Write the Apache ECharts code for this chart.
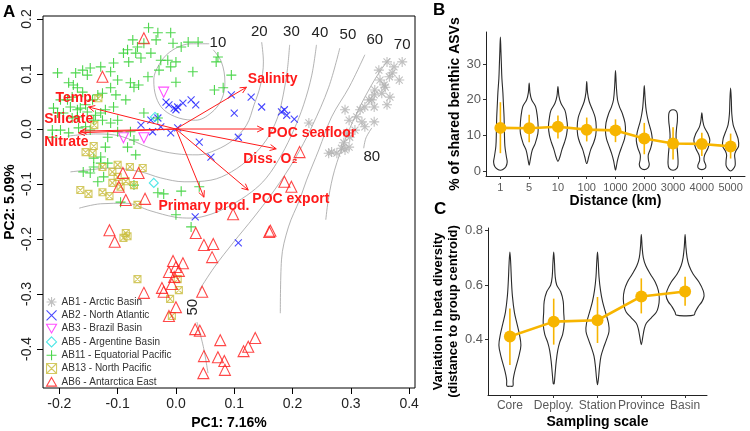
<!DOCTYPE html>
<html><head><meta charset="utf-8">
<script src="https://cdn.jsdelivr.net/npm/echarts@6/dist/echarts.min.js"></script>
<style>html,body{margin:0;padding:0;background:#fff}#c{width:750px;height:431px}</style>
</head><body><div id="c"></div>
<script>
// ---------- Panel A data ----------
const ab1 = [[0.362,0.122],[0.388,0.122],[0.374,0.113],[0.383,0.089],[0.366,0.095],[0.350,0.089],[0.359,0.076],[0.341,0.071],[0.353,0.065],[0.336,0.053],[0.367,0.058],[0.324,0.040],[0.340,0.040],[0.290,0.035],[0.316,0.035],[0.340,0.013],[0.324,0.004],[0.297,0.016],[0.293,-0.007],[0.288,-0.025],[0.290,-0.038],[0.276,-0.044],[0.297,-0.033],[0.371,0.102],[0.348,0.107],[0.331,0.053],[0.310,0.022],[0.319,0.013],[0.307,-0.002],[0.298,-0.015],[0.267,-0.042],[0.228,0.011],[0.362,0.044],[0.357,0.080],[0.340,0.062],[0.284,-0.035],[0.262,-0.044]];
const ab2 = [[-0.017,0.049],[-0.003,0.038],[0.003,0.040],[0.026,0.053],[0.034,0.044],[0.012,0.047],[-0.060,0.007],[-0.043,0.016],[-0.031,0.020],[-0.026,0.004],[-0.040,-0.005],[-0.009,-0.007],[0.003,0.002],[0.095,0.062],[0.129,0.058],[0.147,0.040],[0.100,0.029],[0.181,0.031],[0.186,0.035],[0.190,0.025],[0.203,0.018],[0.107,-0.015],[0.040,-0.024],[0.060,-0.051],[0.033,-0.160],[0.107,-0.207],[0.000,0.035],[-0.012,0.044]];
const ab3 = [[-0.021,0.067],[-0.090,-0.016],[-0.055,-0.016]];
const ab5 = [[-0.036,0.022],[-0.038,-0.098]];
const ab11 = [[-0.047,0.184],[-0.031,0.175],[-0.009,0.175],[0.021,0.158],[0.038,0.158],[-0.074,0.162],[-0.055,0.156],[-0.034,0.162],[-0.005,0.156],[0.009,0.149],[-0.066,0.149],[-0.083,0.144],[-0.090,0.138],[-0.043,0.138],[-0.069,0.138],[-0.060,0.129],[-0.081,0.122],[-0.107,0.120],[-0.026,0.125],[-0.014,0.125],[0.000,0.122],[0.029,0.104],[-0.129,0.113],[-0.147,0.111],[-0.160,0.107],[-0.203,0.102],[-0.172,0.102],[-0.152,0.098],[-0.112,0.104],[-0.100,0.089],[-0.078,0.084],[-0.072,0.076],[-0.064,0.080],[-0.048,0.095],[-0.029,0.107],[-0.009,0.113],[0.000,0.085],[-0.184,0.084],[-0.176,0.080],[-0.169,0.075],[-0.160,0.067],[-0.178,0.058],[-0.186,0.053],[-0.198,0.053],[-0.181,0.040],[-0.169,0.035],[-0.164,0.038],[-0.155,0.044],[-0.152,0.031],[-0.143,0.053],[-0.134,0.062],[-0.126,0.065],[-0.112,0.075],[-0.103,0.062],[-0.086,0.053],[-0.107,0.040],[-0.121,0.035],[-0.129,0.029],[-0.138,0.025],[-0.169,0.022],[-0.178,0.020],[-0.141,0.016],[-0.126,0.016],[-0.112,0.011],[-0.100,0.016],[-0.055,0.029],[-0.031,0.020],[-0.210,0.038],[-0.203,0.029],[-0.193,0.029],[-0.198,-0.002],[-0.212,-0.015],[-0.212,-0.002],[-0.184,-0.007],[-0.167,0.002],[-0.155,0.004],[-0.147,-0.002],[-0.117,-0.015],[-0.100,-0.005],[-0.078,-0.005],[-0.072,-0.020],[-0.083,-0.033],[-0.069,-0.047],[-0.121,-0.033],[-0.129,-0.051],[-0.141,-0.053],[-0.129,-0.062],[-0.117,-0.062],[-0.141,-0.069],[-0.031,-0.116],[-0.021,-0.118],[0.009,-0.113],[0.040,-0.105],[-0.159,-0.078],[-0.147,-0.080],[-0.124,-0.087],[-0.134,-0.096],[-0.072,-0.102],[0.069,0.122],[0.072,0.131],[0.095,0.098],[0.066,0.071],[0.081,0.075],[0.000,-0.156],[0.026,-0.178],[-0.095,-0.133]];
const ab13 = [[-0.133,0.056],[-0.140,0.007],[-0.141,-0.031],[-0.155,-0.042],[-0.143,-0.044],[-0.126,-0.069],[-0.100,-0.065],[-0.079,-0.069],[-0.057,-0.071],[-0.109,-0.078],[-0.100,-0.087],[-0.086,-0.095],[-0.109,-0.098],[-0.095,-0.105],[-0.072,-0.102],[-0.164,-0.111],[-0.150,-0.118],[-0.126,-0.115],[-0.114,-0.122],[-0.066,-0.138],[-0.086,-0.189],[-0.083,-0.195],[-0.090,-0.198],[-0.066,-0.273],[0.003,-0.273],[0.005,-0.293],[-0.010,-0.309],[-0.007,-0.340]];
const ab6 = [[-0.055,0.165],[-0.126,0.095],[-0.091,-0.080],[-0.064,-0.080],[-0.098,-0.105],[-0.086,-0.129],[-0.053,-0.127],[-0.114,-0.184],[-0.105,-0.205],[0.098,-0.155],[0.034,-0.189],[0.048,-0.211],[0.064,-0.209],[0.062,-0.233],[-0.005,-0.240],[0.012,-0.244],[0.000,-0.251],[-0.012,-0.260],[0.005,-0.258],[-0.003,-0.269],[-0.055,-0.298],[-0.024,-0.289],[-0.021,-0.296],[-0.007,-0.282],[0.045,-0.296],[0.000,-0.324],[-0.012,-0.340],[0.033,-0.364],[0.041,-0.367],[0.076,-0.384],[0.048,-0.413],[0.072,-0.415],[0.083,-0.422],[0.084,-0.438],[0.047,-0.444],[0.160,-0.187],[0.136,-0.380],[0.124,-0.396],[0.116,-0.404],[0.212,-0.042],[0.186,-0.096],[0.198,-0.105],[0.162,-0.185]];
const groupNames = ['AB1 - Arctic Basin','AB2 - North Atlantic','AB3 - Brazil Basin','AB5 - Argentine Basin','AB11 - Equatorial Pacific','AB13 - North Pacific','AB6 - Antarctica East'];

// environmental fit arrows (PC1, PC2) and label anchors
const arrowNames = ['Temp.','Silicate','Nitrate','Salinity','POC seafloor','Diss. O₂','POC export','Primary prod.'];
const arrowX = [-0.150,-0.164,-0.167,0.121,0.150,0.172,0.124,0.048];
const arrowY = [0.040,-0.004,-0.007,0.076,0.000,-0.036,-0.111,-0.124];
const arrowLabelX = [-0.172,-0.184,-0.188,0.166,0.233,0.162,0.197,0.048];
const arrowLabelY = [0.056,0.018,-0.024,0.091,-0.007,-0.055,-0.127,-0.140];

// ordisurf contours
const contour10 = [[0.057,0.155],[0.026,0.155],[-0.005,0.144],[-0.026,0.122],[-0.038,0.089],[-0.034,0.058],[-0.021,0.035],[0.005,0.020],[0.034,0.016],[0.060,0.029],[0.078,0.053],[0.084,0.085],[0.078,0.122],[0.064,0.144]];
const contour20 = [[0.147,0.158],[0.150,0.122],[0.145,0.080],[0.134,0.044],[0.121,0.007],[0.098,-0.020],[0.069,-0.038],[0.038,-0.047],[0.000,-0.045],[-0.043,-0.035],[-0.095,-0.013],[-0.138,-0.009],[-0.186,-0.013]];
const contour30 = [[0.195,0.153],[0.191,0.107],[0.184,0.062],[0.174,0.020],[0.155,-0.020],[0.129,-0.051],[0.095,-0.078],[0.060,-0.093],[0.014,-0.096],[-0.026,-0.089],[-0.060,-0.078],[-0.112,-0.071],[-0.155,-0.075],[-0.181,-0.078]];
const contour40 = [[0.241,0.153],[0.233,0.098],[0.219,0.044],[0.202,-0.002],[0.181,-0.047],[0.155,-0.089],[0.129,-0.115],[0.095,-0.138],[0.060,-0.155],[0.026,-0.162],[-0.003,-0.160],[-0.043,-0.149],[-0.086,-0.135],[-0.129,-0.136],[-0.166,-0.144]];
const contour50a = [[0.281,0.147],[0.262,0.076],[0.233,0.004],[0.203,-0.056],[0.169,-0.111],[0.134,-0.160],[0.098,-0.207],[0.066,-0.251],[0.040,-0.293]];
const contour50b = [[0.036,-0.351],[0.047,-0.396],[0.055,-0.444]];
const contour60 = [[0.324,0.135],[0.297,0.076],[0.267,0.022],[0.245,-0.038],[0.224,-0.093],[0.212,-0.129],[0.193,-0.178],[0.181,-0.238],[0.179,-0.335]];
const contour70 = [[0.367,0.129],[0.348,0.102],[0.324,0.058],[0.307,0.022],[0.290,-0.020],[0.272,-0.075],[0.262,-0.124],[0.257,-0.165]];
const contour80 = [[0.336,0.002],[0.326,-0.016],[0.322,-0.035]];
const contourLabelText = ['10','20','30','40','50','60','70','80','50'];
const contourLabelX = [0.072,0.143,0.198,0.247,0.295,0.341,0.388,0.336,0.029];
const contourLabelY = [0.156,0.176,0.176,0.175,0.171,0.162,0.153,-0.051,-0.324];
const contourLabelAngle = [0,0,0,0,0,0,0,0,90];

const ticksAx = [-0.2,-0.1,0,0.1,0.2,0.3,0.4];
const ticksAy = [-0.4,-0.3,-0.2,-0.1,0,0.1,0.2];

// ---------- Panel B data ----------
const bCats = ['1','5','10','100','1000','2000','3000','4000','5000'];
const bMeans = [12.1,12.0,12.4,11.6,11.4,9.1,7.7,7.6,6.9];
const bLower = [5.0,8.1,9.1,8.3,8.1,4.7,3.2,4.2,3.5];
const bUpper = [19.3,15.8,15.6,15.0,14.5,13.5,12.3,10.7,10.5];
const bTicks = [0,10,20,30];
// violin outlines: [value, relative density]
const bViolins = [
 [[37.6,0],[34,0.5],[30,1],[26,1.5],[22,2.5],[19,3],[15,3.7],[11,4],[7,4.5],[4,6],[2.5,6.8],[1.2,5.5],[0.4,2.5],[0.2,0]],
 [[24.7,0],[22,0.8],[20,2.5],[18,6.5],[15,8.3],[12.3,9],[10.5,8.7],[7.7,6],[5.8,3],[3,1],[1.6,0]],
 [[23.7,0],[21,1],[19,3],[17,7],[15,8.5],[12.5,9.5],[10,8.5],[8,6.5],[6,4],[4,2],[2.7,0]],
 [[25.1,0],[22,0.8],[19.5,2.5],[17,6],[15,8.5],[12.5,9.5],[10,9],[8,7],[6,4],[4,2],[2.1,0]],
 [[28.2,0],[24,0.8],[20,2],[18,4],[16,7],[13.5,9.5],[11,10],[9,9],[7,6.5],[5,4],[3,2],[1.5,1],[0.2,0]],
 [[24,0],[21,0.7],[18,1.5],[16,2.5],[14,4],[12,6],[10.5,7.3],[8.6,8],[6.5,6.5],[4.5,4],[3,4.2],[1.8,5],[0.8,3.5],[0.4,0]],
 [[17.2,0],[16.9,3],[16,4.3],[14,4.3],[12,3.5],[10,3],[8,3.3],[6,4.2],[4,4.8],[2,5],[0.8,4],[0.2,0]],
 [[16.3,0],[14,1],[12.3,2.5],[10.5,6],[8.6,8],[6.3,6],[4.4,2.7],[3,2.2],[1.6,4],[0.8,3.5],[0.4,0]],
 [[23.3,0],[20,0.7],[16,1.2],[13,2.5],[11,5],[9,7.5],[7,8],[5.5,5],[4.5,4],[3,4.5],[1.5,4.5],[0.5,2.5],[0,0]]
];

// ---------- Panel C data ----------
const cCats = ['Core','Deploy.','Station','Province','Basin'];
const cMeans = [0.412,0.466,0.471,0.558,0.576];
const cLower = [0.308,0.382,0.388,0.496,0.524];
const cUpper = [0.514,0.550,0.556,0.624,0.630];
const cTicks = [0.4,0.6,0.8];
const cViolins = [
 [[0.72,0],[0.68,0.8],[0.62,1.5],[0.56,2.5],[0.5,4.5],[0.46,7],[0.42,9.5],[0.38,11],[0.34,9],[0.3,6],[0.27,4],[0.25,3.2],[0.231,3],[0.23,0]],
 [[0.72,0],[0.68,0.8],[0.63,1.5],[0.6,3],[0.575,7],[0.54,9.5],[0.5,10],[0.46,10.5],[0.42,9],[0.39,6],[0.36,4],[0.32,2.5],[0.28,1.5],[0.24,0.5],[0.238,0]],
 [[0.72,0],[0.68,0.8],[0.63,1.5],[0.58,3],[0.54,5],[0.5,8],[0.46,11],[0.43,11.5],[0.4,9],[0.37,6],[0.34,3.5],[0.3,2],[0.26,1],[0.236,0]],
 [[0.784,0],[0.74,0.8],[0.7,2],[0.67,4.5],[0.64,9],[0.61,14],[0.58,17],[0.55,18],[0.52,17],[0.5,15],[0.48,10],[0.46,5],[0.44,3],[0.41,1.5],[0.382,0]],
 [[0.784,0],[0.74,0.8],[0.7,2],[0.67,4],[0.64,8],[0.61,14],[0.58,18],[0.56,19],[0.54,17],[0.52,13],[0.5,10],[0.49,9],[0.487,0]]
];

// ---------- styling ----------
const FONT = '"Liberation Sans", Arial, Helvetica, sans-serif';
const ORANGE = '#F7B500';
const SYM = {
  star: 'path://M5,0L5,10M0,5L10,5M1.5,1.5L8.5,8.5M8.5,1.5L1.5,8.5',
  x: 'path://M0,0L10,10M10,0L0,10',
  down: 'path://M0,0L10,0L5,8.66Z',
  diamond: 'path://M5,0L10,5L5,10L0,5Z',
  plus: 'path://M5,0L5,10M0,5L10,5',
  box: 'path://M0,0L10,0L10,10L0,10ZM0,0L10,10M10,0L0,10',
  up: 'path://M5,0L10,8.66L0,8.66Z'
};
const groupData = [ab1,ab2,ab3,ab5,ab11,ab13,ab6];
const groupSym = [SYM.star,SYM.x,SYM.down,SYM.diamond,SYM.plus,SYM.box,SYM.up];
const groupCol = ['#b0b0b0','#1a1aff','#ff22ff','#22e0e0','#22cc22','#c8bb3a','#ff1a1a'];
const groupSize = [10,7,10,9,10,7,11];

function fmt1(v){ const s=(Math.round(v*10)/10).toFixed(1); return s==='-0.0'?'0.0':s; }

const chart = echarts.init(document.getElementById('c'), null, {renderer:'canvas'});

const series = [];
const contours = [contour10,contour20,contour30,contour40,contour50a,contour50b,contour60,contour70,contour80];
contours.forEach(c => series.push({
  type:'line', xAxisIndex:0, yAxisIndex:0, data:c, smooth:0.35, showSymbol:false, symbol:'none',
  lineStyle:{color:'#a0a0a0', width:0.8}, silent:true, z:1, animation:false
}));
series.push({
  type:'custom', xAxisIndex:0, yAxisIndex:0, silent:true, z:2, animation:false,
  data: contourLabelX.map((x,i)=>[x, contourLabelY[i]]),
  renderItem: function(params, api){
    const i = params.dataIndex;
    const p = api.coord([api.value(0), api.value(1)]);
    return {type:'text', x:p[0], y:p[1], rotation: contourLabelAngle[i]*Math.PI/180,
      style:{text:contourLabelText[i], fill:'#222', font:'15px '+FONT, align:'center', verticalAlign:'middle'}};
  }
});
groupNames.forEach((n,g) => series.push({
  type:'scatter', name:n, xAxisIndex:0, yAxisIndex:0, data:groupData[g],
  symbol:groupSym[g], symbolSize:groupSize[g], silent:true, z:3, animation:false,
  itemStyle:{color:'rgba(0,0,0,0)', borderColor:groupCol[g], borderWidth:1.1}
}));
series.push({
  type:'custom', xAxisIndex:0, yAxisIndex:0, silent:true, z:5, animation:false,
  data: arrowX.map((x,i)=>[x, arrowY[i]]),
  renderItem: function(params, api){
    const i = params.dataIndex;
    const o = api.coord([0,0]);
    const e = api.coord([api.value(0), api.value(1)]);
    const ang = Math.atan2(e[1]-o[1], e[0]-o[0]);
    const L = 7, a = Math.PI/7;
    const h1 = [e[0]-L*Math.cos(ang-a), e[1]-L*Math.sin(ang-a)];
    const h2 = [e[0]-L*Math.cos(ang+a), e[1]-L*Math.sin(ang+a)];
    const lp = api.coord([arrowLabelX[i], arrowLabelY[i]]);
    return {type:'group', children:[
      {type:'line', shape:{x1:o[0],y1:o[1],x2:e[0],y2:e[1]}, style:{stroke:'#ff1a1a', lineWidth:1}},
      {type:'polyline', shape:{points:[h1,e,h2]}, style:{stroke:'#ff1a1a', fill:null, lineWidth:1}},
      {type:'text', x:lp[0], y:lp[1], style:{text:arrowNames[i], fill:'#ff1a1a', font:'bold 14px '+FONT, align:'center', verticalAlign:'middle'}}
    ]};
  }
});

function violinSeries(xi, yi, shapes, factor){
  return {
    type:'custom', xAxisIndex:xi, yAxisIndex:yi, silent:true, z:2, animation:false,
    data: shapes.map((s,i)=>[i, s[0][0]]),
    renderItem: function(params, api){
      const i = params.dataIndex;
      const band = api.size([1,0])[0];
      const k = band*factor;
      const right=[], left=[];
      shapes[i].forEach(([v,w])=>{
        const p = api.coord([i, v]);
        right.push([p[0]+w*k, p[1]]);
        if (w>0) left.push([p[0]-w*k, p[1]]);
      });
      const pts = right.concat(left.reverse());
      return {type:'polygon', shape:{points:pts, smooth:0.35}, style:{fill:'none', stroke:'#2b2b2b', lineWidth:1.1}};
    }
  };
}
function errSeries(xi, yi, lo, hi){
  return {
    type:'custom', xAxisIndex:xi, yAxisIndex:yi, silent:true, z:3, animation:false,
    data: lo.map((l,i)=>[i, l, hi[i]]),
    encode:{x:0, y:[1,2]},
    renderItem: function(params, api){
      const a = api.coord([api.value(0), api.value(1)]);
      const b = api.coord([api.value(0), api.value(2)]);
      return {type:'line', shape:{x1:a[0],y1:a[1],x2:b[0],y2:b[1]}, style:{stroke:ORANGE, lineWidth:1.6}};
    }
  };
}
series.push(violinSeries(1,1,bViolins,1/28.8));
series.push(errSeries(1,1,bLower,bUpper));
series.push({type:'line', xAxisIndex:1, yAxisIndex:1, data:bMeans, symbol:'circle', symbolSize:12,
  itemStyle:{color:ORANGE}, lineStyle:{color:ORANGE, width:2.6}, silent:true, z:4, animation:false});
series.push(violinSeries(2,2,cViolins,1/43.8));
series.push(errSeries(2,2,cLower,cUpper));
series.push({type:'line', xAxisIndex:2, yAxisIndex:2, data:cMeans, symbol:'circle', symbolSize:12,
  itemStyle:{color:ORANGE}, lineStyle:{color:ORANGE, width:2.6}, silent:true, z:4, animation:false});

const ggLabel = {color:'#5a5a5a', fontFamily:FONT};
const ggName = {color:'#000', fontWeight:'bold', fontSize:14, fontFamily:FONT};
const letterStyle = {fontSize:17, fontWeight:'bold', color:'#000', fontFamily:FONT};

const option = {
  animation:false,
  textStyle:{fontFamily:FONT},
  title:[
    {text:'A', left:3, top:4, padding:0, textStyle:letterStyle},
    {text:'B', left:433, top:2, padding:0, textStyle:letterStyle},
    {text:'C', left:434, top:201, padding:0, textStyle:letterStyle}
  ],
  legend:{
    data:groupNames, orient:'vertical', left:46, top:296, itemWidth:10, itemHeight:10, itemGap:1.3,
    padding:0, selectedMode:false,
    textStyle:{fontSize:10, color:'#333', fontFamily:FONT, lineHeight:12},
    itemStyle:{borderWidth:1.1}
  },
  grid:[
    {left:43, top:16, width:372, height:372, show:true, borderColor:'#000', borderWidth:1, backgroundColor:'rgba(0,0,0,0)', containLabel:false, outerBoundsMode:'none'},
    {left:486, top:32, width:259, height:144, containLabel:false, outerBoundsMode:'none'},
    {left:488, top:228, width:219, height:167, containLabel:false, outerBoundsMode:'none'}
  ],
  xAxis:[
    {type:'value', gridIndex:0, min:-0.228, max:0.410, position:'bottom',
     axisLine:{show:false, onZero:false}, splitLine:{show:false},
     axisTick:{show:true, length:6, lineStyle:{color:'#000'}, customValues:ticksAx},
     axisLabel:{customValues:ticksAx, formatter:fmt1, fontSize:14, color:'#222', margin:9, fontFamily:FONT},
     name:'PC1: 7.16%', nameLocation:'middle', nameGap:25, nameTextStyle:ggName},
    {type:'category', gridIndex:1, data:bCats,
     axisLine:{show:true, onZero:false, lineStyle:{color:'#222', width:1}},
     axisTick:{show:true, alignWithLabel:true, length:3, lineStyle:{color:'#333'}},
     axisLabel:Object.assign({fontSize:11, margin:6, interval:0}, ggLabel),
     splitLine:{show:false},
     name:'Distance (km)', nameLocation:'middle', nameGap:16, nameTextStyle:ggName},
    {type:'category', gridIndex:2, data:cCats,
     axisLine:{show:true, onZero:false, lineStyle:{color:'#222', width:1}},
     axisTick:{show:true, alignWithLabel:true, length:3, lineStyle:{color:'#333'}},
     axisLabel:Object.assign({fontSize:12, margin:5, interval:0}, ggLabel),
     splitLine:{show:false},
     name:'Sampling scale', nameLocation:'middle', nameGap:20, nameTextStyle:ggName}
  ],
  yAxis:[
    {type:'value', gridIndex:0, min:-0.471, max:0.2055, position:'left',
     axisLine:{show:false, onZero:false}, splitLine:{show:false},
     axisTick:{show:true, length:6, lineStyle:{color:'#000'}, customValues:ticksAy},
     axisLabel:{customValues:ticksAy, formatter:fmt1, fontSize:14, color:'#222', margin:9, rotate:90, fontFamily:FONT},
     name:'PC2: 5.09%', nameLocation:'middle', nameGap:26, nameRotate:90, nameTextStyle:ggName},
    {type:'value', gridIndex:1, min:-1.4, max:39,
     axisLine:{show:true, onZero:false, lineStyle:{color:'#222', width:1}}, splitLine:{show:false},
     axisTick:{show:true, length:3, lineStyle:{color:'#333'}, customValues:bTicks},
     axisLabel:Object.assign({customValues:bTicks, fontSize:13, margin:5}, ggLabel),
     name:'% of shared benthic ASVs', nameLocation:'middle', nameGap:22, nameRotate:90, nameTextStyle:ggName},
    {type:'value', gridIndex:2, min:0.198, max:0.808,
     axisLine:{show:true, onZero:false, lineStyle:{color:'#222', width:1}}, splitLine:{show:false},
     axisTick:{show:true, length:3, lineStyle:{color:'#333'}, customValues:cTicks},
     axisLabel:Object.assign({customValues:cTicks, formatter:fmt1, fontSize:13, margin:5}, ggLabel),
     name:'Variation in beta diversity\n(distance to group centroid)', nameLocation:'middle', nameGap:23, nameRotate:90,
     nameTextStyle:Object.assign({}, ggName, {fontSize:13, lineHeight:15})}
  ],
  series:series
};
chart.setOption(option);
</script></body></html>
